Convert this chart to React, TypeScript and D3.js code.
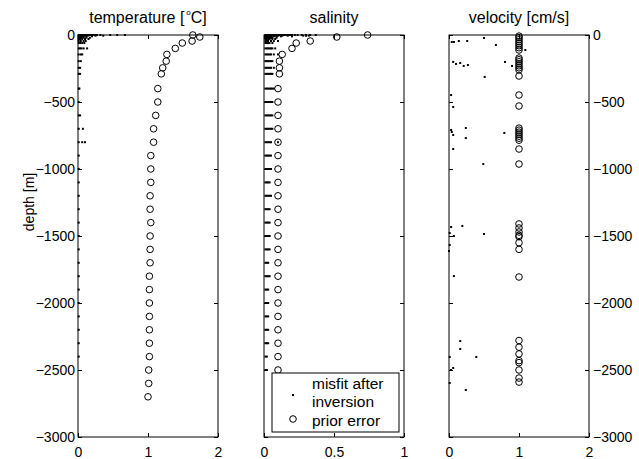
import React, { useEffect, useRef } from "react";
import * as d3 from "d3";

// prior error levels (depth in m, positive down)
const priorDepth = [0, 15, 45, 60, 100, 145, 195, 245, 290, 400, 500, 600, 700, 800, 900, 1000, 1100, 1200, 1300, 1400, 1500, 1600, 1700, 1800, 1900, 2000, 2100, 2200, 2300, 2400, 2500, 2600, 2700];
const tempPrior = [1.64, 1.74, 1.63, 1.49, 1.39, 1.27, 1.26, 1.21, 1.19, 1.14, 1.14, 1.11, 1.08, 1.08, 1.04, 1.04, 1.04, 1.03, 1.03, 1.04, 1.03, 1.03, 1.03, 1.02, 1.02, 1.02, 1.02, 1.02, 1.02, 1.02, 1.01, 1.01, 1.0];
const salPrior = [0.74, 0.52, 0.33, 0.23, 0.2, 0.13, 0.11, 0.11, 0.11, 0.1, 0.1, 0.1, 0.1, 0.1, 0.1, 0.1, 0.1, 0.1, 0.1, 0.1, 0.1, 0.1, 0.1, 0.1, 0.1, 0.1, 0.1, 0.1, 0.1, 0.1, 0.1, 0.1, 0.1];

// misfit after inversion, grouped by level
const tempMisfitDepth = [0, 5, 10, 20, 30, 45, 60, 100, 145, 195, 245, 290, 400, 500, 600, 700, 800, 900, 1000, 1100, 1200, 1300, 1400, 1500, 1600, 1700, 1800, 1900, 2000, 2100, 2200, 2300, 2400];
const tempMisfit = [
  [0.01, 0.03, 0.05, 0.07, 0.09, 0.11, 0.13, 0.15, 0.17, 0.19, 0.21, 0.23, 0.25, 0.27, 0.32, 0.46, 0.56, 0.67],
  [0.02, 0.04, 0.06, 0.08, 0.1, 0.12, 0.14, 0.2, 0.25, 0.36],
  [0.01, 0.03, 0.05, 0.07, 0.09, 0.12, 0.2],
  [0.01, 0.03, 0.05, 0.08, 0.12, 0.17],
  [0.01, 0.03, 0.06, 0.1, 0.15],
  [0.01, 0.04, 0.08, 0.11],
  [0.01, 0.03, 0.06, 0.09],
  [0.01, 0.03, 0.05, 0.08, 0.13],
  [0.01, 0.04, 0.06],
  [0.01, 0.04],
  [0.01, 0.03],
  [0.01, 0.03],
  [0.01, 0.02],
  [0.01],
  [0.01, 0.03],
  [0.01, 0.07],
  [0.01, 0.06, 0.1],
  [0.01],
  [0.01],
  [0.01],
  [0.01],
  [0.01],
  [0.01],
  [0.01],
  [0.01],
  [0.01],
  [0.01],
  [0.01],
  [0.01],
  [0.01],
  [0.01],
  [0.01],
  [0.01]
];

const salMisfitDepth = [0, 5, 10, 20, 30, 45, 60, 100, 145, 195, 245, 290, 400, 500, 600, 700, 800, 900, 1000, 1100, 1200, 1300, 1400, 1500, 1600, 1700, 1800, 1900, 2000, 2100, 2200, 2300, 2400, 2500];
const salMisfit = [
  [0.01, 0.02, 0.03, 0.04, 0.05, 0.06, 0.07, 0.08, 0.09, 0.1, 0.11, 0.12, 0.13, 0.14, 0.15, 0.16, 0.17, 0.18, 0.19, 0.2, 0.22, 0.24, 0.27, 0.3, 0.33, 0.37],
  [0.01, 0.02, 0.03, 0.04, 0.05, 0.06, 0.08, 0.1, 0.13, 0.17, 0.28, 0.3, 0.32],
  [0.01, 0.02, 0.03, 0.04, 0.05, 0.07, 0.09, 0.12, 0.2],
  [0.01, 0.02, 0.03, 0.04, 0.05, 0.06, 0.09],
  [0.01, 0.02, 0.03, 0.04, 0.06, 0.08],
  [0.01, 0.02, 0.03, 0.05, 0.07, 0.1],
  [0.01, 0.02, 0.03, 0.04, 0.06],
  [0.01, 0.02, 0.03, 0.04, 0.05, 0.06, 0.08],
  [0.01, 0.02, 0.03, 0.04, 0.05, 0.07, 0.1],
  [0.01, 0.02, 0.03, 0.04, 0.05, 0.06],
  [0.01, 0.02, 0.03, 0.04, 0.05, 0.07],
  [0.01, 0.02, 0.03, 0.04, 0.05, 0.06],
  [0.01, 0.02, 0.03, 0.04, 0.05, 0.06, 0.07],
  [0.01, 0.02, 0.03, 0.04, 0.05, 0.06],
  [0.01, 0.02, 0.03, 0.04, 0.05, 0.06],
  [0.01, 0.02, 0.03, 0.04, 0.05, 0.06],
  [0.01, 0.02, 0.03, 0.04, 0.05, 0.1],
  [0.01, 0.02, 0.03, 0.04, 0.05],
  [0.01, 0.02, 0.03, 0.04, 0.05],
  [0.01, 0.02, 0.03, 0.04],
  [0.01, 0.02, 0.03, 0.04, 0.05],
  [0.01, 0.02, 0.03, 0.04],
  [0.01, 0.02, 0.03, 0.04],
  [0.01, 0.02, 0.03, 0.04],
  [0.01, 0.02, 0.03, 0.04],
  [0.01, 0.02, 0.03],
  [0.01, 0.02, 0.03, 0.04],
  [0.01, 0.02, 0.03],
  [0.01, 0.02, 0.03],
  [0.01, 0.02, 0.03],
  [0.01, 0.02, 0.03],
  [0.01, 0.02, 0.03],
  [0.01, 0.02],
  [0.01, 0.02]
];

const velPriorDepth = [8, 20, 35, 50, 65, 80, 95, 112, 172, 185, 200, 215, 230, 245, 260, 306, 448, 530, 695, 710, 725, 740, 755, 770, 785, 851, 963, 1410, 1440, 1470, 1495, 1505, 1550, 1600, 1806, 2280, 2330, 2380, 2430, 2445, 2500, 2560, 2590];
const velPrior = velPriorDepth.map(() => 1);

const velMisfitDepth = [52, 52, 45, 45, 22, 75, 112, 201, 216, 209, 231, 224, 313, 201, 231, 448, 537, 694, 709, 724, 746, 769, 731, 851, 963, 1433, 1425, 1478, 1500, 1485, 1567, 1612, 1799, 2284, 2343, 2403, 2403, 2485, 2500, 2597, 2649];
const velMisfit = [0.04, 0.07, 0.14, 0.26, 0.5, 0.67, 1.09, 0.06, 0.1, 0.16, 0.21, 0.27, 0.51, 0.8, 0.9, 0.03, 0.06, 0.24, 0.03, 0.04, 0.06, 0.24, 0.79, 0.06, 0.49, 0.03, 0.19, 0.01, 0.07, 0.5, 0.01, 0.0, 0.07, 0.16, 0.16, 0.39, 0.01, 0.06, 0.03, 0.01, 0.24];

const depthTicks = [0, -500, -1000, -1500, -2000, -2500, -3000];
const titles = ["temperature [", "salinity", "velocity [cm/s]"];

const W = 639, H = 459;
const top = 35, bottom = 437, pw = 140;
const lefts = [78, 264, 449];
const font = "'Liberation Sans', Arial, Helvetica, sans-serif";

export default function App() {
  const ref = useRef<SVGSVGElement>(null);

  useEffect(() => {
    const svg = d3.select(ref.current);
    svg.selectAll("*").remove();

    const y = d3.scaleLinear().domain([0, -3000]).range([top, bottom]);
    const xs = [
      d3.scaleLinear().domain([0, 2]).range([lefts[0], lefts[0] + pw]),
      d3.scaleLinear().domain([0, 1]).range([lefts[1], lefts[1] + pw]),
      d3.scaleLinear().domain([0, 2]).range([lefts[2], lefts[2] + pw])
    ];
    const xTicks = [[0, 1, 2], [0, 0.5, 1], [0, 1, 2]];
    const fmt = (d: number) => (d === 0 ? "0" : "\u2212" + Math.abs(d));

    xs.forEach((x, i) => {
      const g = svg.append("g");
      const l = lefts[i], r = lefts[i] + pw;

      // bottom / top axes, inward ticks
      g.append("g")
        .attr("transform", `translate(0,${bottom})`)
        .call(d3.axisBottom(x).tickValues(xTicks[i]).tickSize(-4).tickSizeOuter(0).tickPadding(10).tickFormat(d => d3.format("")(d as number)))
        .call(a => a.select(".domain").remove());
      g.append("g")
        .attr("transform", `translate(0,${top})`)
        .call(d3.axisTop(x).tickValues(xTicks[i]).tickSize(-4).tickSizeOuter(0).tickFormat(() => ""))
        .call(a => a.select(".domain").remove());
      // left / right axes
      g.append("g")
        .attr("transform", `translate(${l},0)`)
        .call(d3.axisLeft(y).tickValues(depthTicks).tickSize(-4).tickSizeOuter(0).tickPadding(3).tickFormat(i === 0 ? (d => fmt(d as number)) : () => ""))
        .call(a => a.select(".domain").remove());
      g.append("g")
        .attr("transform", `translate(${r},0)`)
        .call(d3.axisRight(y).tickValues(depthTicks).tickSize(-4).tickSizeOuter(0).tickPadding(4).tickFormat(i === 2 ? (d => fmt(d as number)) : () => ""))
        .call(a => a.select(".domain").remove());

      g.selectAll(".tick line").attr("stroke", "#000").attr("stroke-width", 1);
      g.selectAll(".tick text").attr("font-family", font).attr("font-size", 14).attr("fill", "#000");

      g.append("rect")
        .attr("x", l).attr("y", top).attr("width", pw).attr("height", bottom - top)
        .attr("fill", "none").attr("stroke", "#000").attr("stroke-width", 1);

      const t = g.append("text")
        .attr("x", (l + r) / 2).attr("y", 23)
        .attr("text-anchor", "middle")
        .attr("font-family", font).attr("font-size", 16)
        .text(titles[i]);
      if (i === 0) {
        t.append("tspan").attr("font-size", 8).attr("dx", 2).attr("dy", -8).text("o");
        t.append("tspan").attr("dy", 8).text("C]");
      }
    });

    const plotPrior = (x: d3.ScaleLinear<number, number>, depth: number[], vals: number[]) => {
      svg.append("g").selectAll("circle")
        .data(vals)
        .join("circle")
        .attr("cx", d => x(d))
        .attr("cy", (d, k) => y(-depth[k]))
        .attr("r", 3.3)
        .attr("fill", "none")
        .attr("stroke", "#000")
        .attr("stroke-width", 1);
    };
    const plotMisfit = (x: d3.ScaleLinear<number, number>, pts: [number, number][]) => {
      svg.append("g").selectAll("rect")
        .data(pts)
        .join("rect")
        .attr("x", d => x(d[1]) - 1)
        .attr("y", d => y(-d[0]) - 1)
        .attr("width", 2)
        .attr("height", 2)
        .attr("fill", "#000");
    };

    const tempPts: [number, number][] = tempMisfitDepth.flatMap((d, k) => tempMisfit[k].map(v => [d, v] as [number, number]));
    const salPts: [number, number][] = salMisfitDepth.flatMap((d, k) => salMisfit[k].map(v => [d, v] as [number, number]));
    const velPts: [number, number][] = velMisfitDepth.map((d, k) => [d, velMisfit[k]]);

    plotPrior(xs[0], priorDepth, tempPrior);
    plotMisfit(xs[0], tempPts);
    plotPrior(xs[1], priorDepth, salPrior);
    plotMisfit(xs[1], salPts);
    plotPrior(xs[2], velPriorDepth, velPrior);
    plotMisfit(xs[2], velPts);

    // legend
    const lg = svg.append("g").attr("font-family", font).attr("font-size", 15.5);
    lg.append("rect").attr("x", 272).attr("y", 373).attr("width", 127).attr("height", 59)
      .attr("fill", "#fff").attr("stroke", "#000").attr("stroke-width", 1);
    lg.append("rect").attr("x", 292).attr("y", 394).attr("width", 2).attr("height", 2).attr("fill", "#000");
    lg.append("circle").attr("cx", 293).attr("cy", 419).attr("r", 3.3).attr("fill", "none").attr("stroke", "#000");
    lg.append("text").attr("x", 312).attr("y", 389).text("misfit after");
    lg.append("text").attr("x", 312).attr("y", 407).text("inversion");
    lg.append("text").attr("x", 312).attr("y", 426).text("prior error");

    // y label
    svg.append("text")
      .attr("transform", `translate(34,202) rotate(-90)`)
      .attr("text-anchor", "middle")
      .attr("font-family", font).attr("font-size", 14)
      .text("depth [m]");
  }, []);

  return (
    <svg ref={ref} width={W} height={H} style={{ position: "absolute", left: 0, top: 0, background: "#fff" }} />
  );
}
